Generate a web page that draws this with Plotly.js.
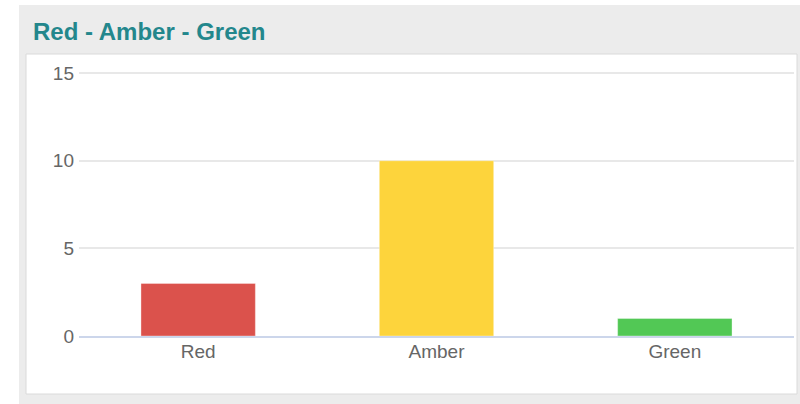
<!DOCTYPE html>
<html>
<head>
<meta charset="utf-8">
<script src="https://cdn.plot.ly/plotly-3.0.1.min.js"></script>
<style>
html,body{margin:0;padding:0;background:#fff;}
#chart{width:800px;height:404px;}
</style>
</head>
<body>
<div id="chart"></div>
<script>
var categories = ["Red", "Amber", "Green"];
var values = [3, 10, 1];
var barColors = ["#db524c", "#fdd43c", "#52c855"];
var yTicks = [0, 5, 10, 15];
var chartTitle = "Red - Amber - Green";

var W = 800, H = 404;
var L = 79, R = 6, T = 71, B = 68;
var pw = W - L - R, ph = H - T - B;
function px(x){ return (x - L) / pw; }
function py(y){ return (H - B - y) / ph; }

var trace = {
  type: "bar",
  x: categories,
  y: values,
  marker: { color: barColors, line: { color: "rgba(255,255,255,0.35)", width: 1 } },
  hoverinfo: "x+y"
};

var layout = {
  width: W, height: H,
  margin: { l: L, r: R, t: T, b: B, pad: 0 },
  paper_bgcolor: "#ffffff",
  plot_bgcolor: "rgba(0,0,0,0)",
  font: { family: "Liberation Sans, Arial, sans-serif", color: "#666666", size: 19 },
  title: {
    text: "<b>" + chartTitle + "</b>",
    x: 33 / W, xanchor: "left", xref: "container",
    y: 1 - 32 / H, yanchor: "middle", yref: "container",
    font: { family: "Liberation Sans, Arial, sans-serif", size: 24, color: "#23878c" }
  },
  bargap: 0.52,
  showlegend: false,
  xaxis: {
    type: "category",
    showgrid: false,
    showline: true, linecolor: "#ccd6eb", linewidth: 2,
    ticks: "", tickfont: { size: 19, color: "#666666" },
    ticklabelstandoff: -3,
    fixedrange: true
  },
  yaxis: {
    range: [0, 15.12],
    tickvals: yTicks,
    ticktext: yTicks.map(String),
    showgrid: true, gridcolor: "#e8e8e8", gridwidth: 2,
    zeroline: false, showline: false,
    ticks: "", tickfont: { size: 19, color: "#666666" },
    ticklabelstandoff: 4,
    fixedrange: true
  },
  shapes: [
    { type: "rect", xref: "paper", yref: "paper", layer: "below",
      x0: px(19), x1: px(800), y0: py(404), y1: py(5),
      fillcolor: "#ececec", line: { width: 0 } },
    { type: "rect", xref: "paper", yref: "paper", layer: "below",
      x0: px(26), x1: px(797), y0: py(394), y1: py(54),
      fillcolor: "#ffffff", line: { color: "#dadada", width: 1 } }
  ]
};

Plotly.newPlot("chart", [trace], layout, { displayModeBar: false, staticPlot: true });
</script>
</body>
</html>
